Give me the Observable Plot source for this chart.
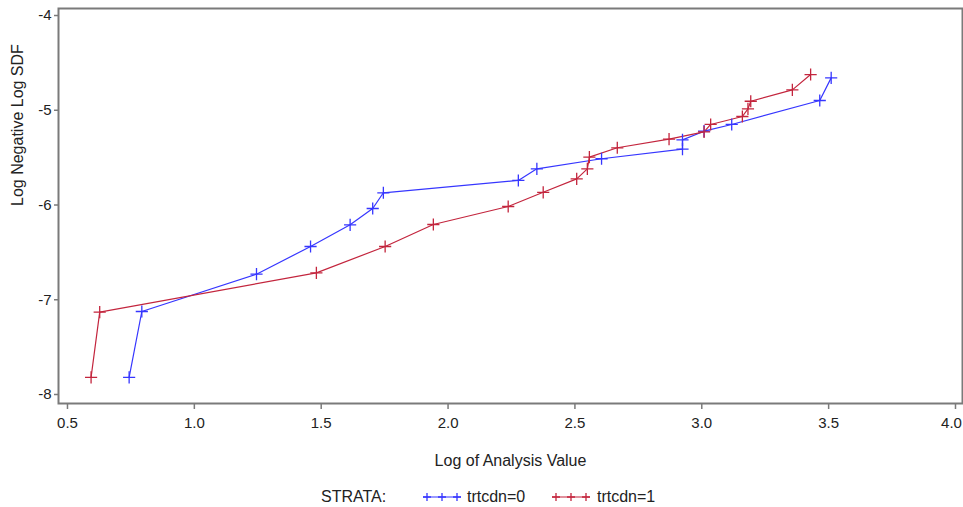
<!DOCTYPE html>
<html><head><meta charset="utf-8">
<script src="https://cdn.jsdelivr.net/npm/d3@7"></script>
<script src="https://cdn.jsdelivr.net/npm/@observablehq/plot@0.6"></script>
<style>
body{margin:0;background:#fff;font-family:"Liberation Sans",Arial,sans-serif;}
#wrap{position:relative;width:963px;height:507px;overflow:hidden;}
#legend{position:absolute;top:486px;left:0;width:963px;height:21px;font-size:16px;color:#222;}
#legend span{position:absolute;top:0;line-height:21px;white-space:nowrap;}
#legend svg{position:absolute;top:4px;}
</style></head><body><div id="wrap"><div id="chart"></div><div id="legend"></div></div>
<script>
const strata = ["trtcdn=0", "trtcdn=1"];
const colors = ["#3636ff", "#c3253d"];
const x0 = [0.743, 0.793, 1.245, 1.458, 1.614, 1.703, 1.745, 2.277, 2.350, 2.605, 2.924, 2.924, 3.009, 3.118, 3.465, 3.510];
const y0 = [-7.82, -7.124, -6.73, -6.438, -6.209, -6.037, -5.871, -5.741, -5.618, -5.512, -5.411, -5.312, -5.221, -5.150, -4.897, -4.658];
const x1 = [0.593, 0.627, 1.481, 1.752, 1.942, 2.237, 2.375, 2.507, 2.549, 2.557, 2.667, 2.871, 3.009, 3.035, 3.160, 3.182, 3.193, 3.357, 3.429];
const y1 = [-7.82, -7.131, -6.716, -6.438, -6.206, -6.016, -5.866, -5.724, -5.618, -5.495, -5.396, -5.305, -5.229, -5.150, -5.066, -4.985, -4.905, -4.785, -4.623];
const xTicks = [0.5, 1.0, 1.5, 2.0, 2.5, 3.0, 3.5, 4.0];
const yTicks = [-8, -7, -6, -5, -4];
const xLabel = "Log of Analysis Value";
const yLabel = "Log Negative Log SDF";
const legendTitle = "STRATA:";

const data = [
  ...x0.map((x, i) => ({x, y: y0[i], s: strata[0]})),
  ...x1.map((x, i) => ({x, y: y1[i], s: strata[1]}))
];

const axisColor = "#7a7a7a";
const lastTick = xTicks[xTicks.length - 1];
const chart = Plot.plot({
  width: 963, height: 486,
  marginLeft: 58, marginRight: 1, marginTop: 8, marginBottom: 83,
  style: {fontFamily: "'Liberation Sans', Arial, sans-serif", fontSize: "15px", color: "#222", background: "#fff"},
  x: {domain: [0.4646, 4.0276]},
  y: {domain: [-8.095, -3.926]},
  color: {domain: strata, range: colors},
  marks: [
    Plot.frame({stroke: axisColor, strokeWidth: 2}),
    Plot.axisX({ticks: xTicks, tickFormat: d => d.toFixed(1), tickSize: 6, stroke: axisColor, strokeWidth: 1.5, text: null, label: null}),
    Plot.axisX({ticks: xTicks.slice(0, -1), tickFormat: d => d.toFixed(1), tickSize: 0, tickPadding: 14, label: null, fontSize: 15}),
    Plot.axisX({ticks: [lastTick], tickFormat: d => d.toFixed(1), tickSize: 0, tickPadding: 14, dx: -4, label: null, fontSize: 15}),
    Plot.axisY({ticks: yTicks, tickFormat: d => String(d), tickSize: 4, tickPadding: 3, stroke: axisColor, strokeWidth: 1.5, label: null, fontSize: 15}),
    Plot.text([xLabel], {frameAnchor: "bottom", dy: 62, text: d => d, fontSize: 16, fill: "#222"}),
    Plot.text([yLabel], {frameAnchor: "left", dx: -41, rotate: -90, text: d => d, fontSize: 16, fill: "#222"}),
    Plot.line(data, {x: "x", y: "y", stroke: "s", z: "s", strokeWidth: 1.2}),
    Plot.dot(data, {x: "x", y: "y", stroke: "s", symbol: "plus", r: 4, strokeWidth: 1.3})
  ]
});
document.getElementById("chart").appendChild(chart);

// legend
const leg = document.getElementById("legend");
function addText(t, left) { const s = document.createElement("span"); s.textContent = t; s.style.left = left + "px"; leg.appendChild(s); }
function addSwatch(color, left) {
  const ns = "http://www.w3.org/2000/svg";
  const svg = document.createElementNS(ns, "svg");
  svg.setAttribute("width", 40); svg.setAttribute("height", 14);
  svg.style.left = left + "px";
  const l = document.createElementNS(ns, "line");
  l.setAttribute("x1", 1); l.setAttribute("x2", 39); l.setAttribute("y1", 7); l.setAttribute("y2", 7);
  l.setAttribute("stroke", color); l.setAttribute("stroke-width", 1.2);
  svg.appendChild(l);
  [5, 20, 35].forEach(cx => {
    const p = document.createElementNS(ns, "path");
    p.setAttribute("d", `M${cx-4},7H${cx+4}M${cx},3V11`);
    p.setAttribute("stroke", color); p.setAttribute("stroke-width", 1.3);
    svg.appendChild(p);
  });
  leg.appendChild(svg);
}
addText(legendTitle, 321);
addSwatch(colors[0], 422);
addText(strata[0], 467);
addSwatch(colors[1], 551);
addText(strata[1], 597);
</script>
</body></html>
